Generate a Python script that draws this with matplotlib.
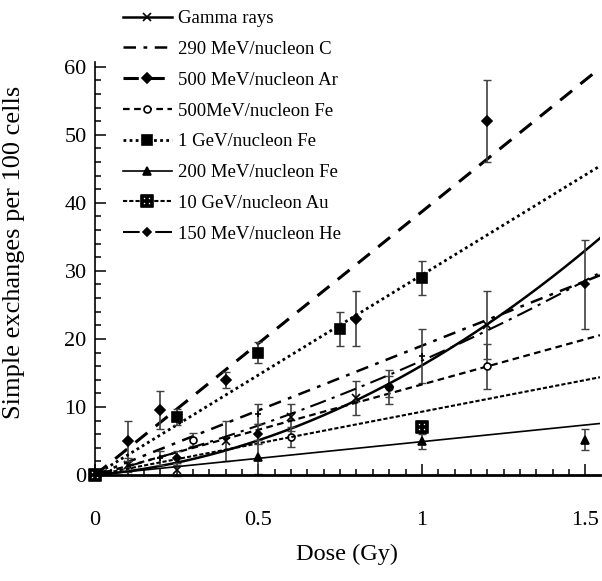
import matplotlib.pyplot as plt
from matplotlib.lines import Line2D
from matplotlib.ticker import MultipleLocator, FuncFormatter
import numpy as np

plt.rcParams['font.family'] = ['Liberation Serif', 'DejaVu Serif']

# series labels
labels = ["Gamma rays", "290 MeV/nucleon C", "500 MeV/nucleon Ar", "500MeV/nucleon Fe",
          "1 GeV/nucleon Fe", "200 MeV/nucleon Fe", "10 GeV/nucleon Au", "150 MeV/nucleon He"]

# measured points: dose (Gy), exchanges per 100 cells, error
gamma_x = [0.1, 0.25, 0.4, 0.6, 0.8, 1.2]
gamma_y = [1.5, 0.8, 5.0, 8.5, 11.3, 22.0]
gamma_e = [1.0, 1.0, 3.0, 2.0, 2.5, 5.0]

c_x = [0.2, 0.5, 1.0]
c_y = [2.5, 9.0, 17.5]
c_e = [1.0, 1.5, 4.0]

ar_x = [0.1, 0.2, 0.4, 0.8, 1.2]
ar_y = [5.0, 9.5, 14.0, 23.0, 52.0]
ar_e = [3.0, 2.8, 1.2, 4.0, 6.0]

fe500_x = [0.3, 0.6, 0.9, 1.2]
fe500_y = [5.2, 5.6, 13.0, 16.0]
fe500_e = [1.0, 1.5, 1.5, 3.3]

fe1g_x = [0.25, 0.5, 0.75, 1.0]
fe1g_y = [8.5, 18.0, 21.5, 29.0]
fe1g_e = [1.2, 1.5, 2.5, 2.5]

fe200_x = [0.5, 1.0, 1.5]
fe200_y = [2.6, 5.0, 5.2]
fe200_e = [2.5, 1.2, 1.5]

au_x = [0.0, 1.0]
au_y = [0.0, 7.0]
au_e = [0.0, 1.0]

he_x = [0.25, 0.5, 0.9, 1.5]
he_y = [2.5, 6.0, 13.0, 28.0]
he_e = [1.0, 1.5, 2.5, 6.5]

# fitted dose responses: linear slope, quadratic coefficient
fit_a = [4.3, 19.0, 38.7, 13.3, 29.4, 4.9, 9.3, 12.3]
fit_b = [11.8, 0.0, 0.0, 0.0, 0.0, 0.0, 0.0, 4.5]

xs = [gamma_x, c_x, ar_x, fe500_x, fe1g_x, fe200_x, au_x, he_x]
ys = [gamma_y, c_y, ar_y, fe500_y, fe1g_y, fe200_y, au_y, he_y]
es = [gamma_e, c_e, ar_e, fe500_e, fe1g_e, fe200_e, au_e, he_e]

styles = [
    dict(ls='-', lw=1.8, marker='x', ms=6, mfc='k'),
    dict(ls=(0, (5, 3, 1.5, 3)), lw=1.8, marker='+', ms=4, mfc='k'),
    dict(ls=(0, (5, 3.5)), lw=2.2, marker='D', ms=5, mfc='k'),
    dict(ls=(0, (3, 2)), lw=1.6, marker='o', ms=5, mfc='white'),
    dict(ls=(0, (1, 1.2)), lw=2.0, marker='s', ms=7, mfc='k'),
    dict(ls='-', lw=1.2, marker='^', ms=6, mfc='k'),
    dict(ls=(0, (2, 1)), lw=1.5, marker='$\\boxplus$', ms=8, mfc='k'),
    dict(ls=(0, (8, 3, 1.5, 3)), lw=1.5, marker='D', ms=4, mfc='k'),
]

fig = plt.figure(figsize=(6.02, 5.81), dpi=100)
ax = fig.add_axes([95 / 602, 106 / 581, 505 / 602, 413 / 581])

xmax = 1.545
xx = np.linspace(0, xmax, 200)
for i in range(len(labels)):
    st = styles[i]
    yy = fit_a[i] * xx + fit_b[i] * xx ** 2
    ax.plot(xx, yy, color='k', ls=st['ls'], lw=st['lw'])
    ax.errorbar(xs[i], ys[i], yerr=es[i], fmt='none', ecolor='0.25', elinewidth=1.2,
                capsize=3, capthick=1.0, clip_on=False)
    ax.plot(xs[i], ys[i], ls='none', marker=st['marker'], ms=st['ms'], mfc=st['mfc'],
            mec='k', mew=1.2, color='k', clip_on=False)

ax.set_xlim(0, xmax)
ax.set_ylim(0, 60.7)
ax.spines['top'].set_visible(False)
ax.spines['right'].set_visible(False)
ax.spines['left'].set_linewidth(1.2)
ax.spines['bottom'].set_linewidth(2.0)
ax.xaxis.set_major_locator(MultipleLocator(0.5))
ax.xaxis.set_minor_locator(MultipleLocator(0.05))
ax.yaxis.set_major_locator(MultipleLocator(10))
ax.yaxis.set_minor_locator(MultipleLocator(2))
ax.xaxis.set_major_formatter(FuncFormatter(lambda v, p: ('%g' % v)))
ax.tick_params(which='both', direction='in', top=False, right=False, labelsize=16, width=1.1)
ax.tick_params(which='major', length=8)
ax.tick_params(which='minor', length=4)
ax.tick_params(axis='x', pad=26)
ax.tick_params(axis='y', pad=6)

ax.set_xlabel("Dose (Gy)", fontsize=17.5, labelpad=10)
ax.set_ylabel("Simple exchanges per 100 cells", fontsize=19)
ax.yaxis.set_label_coords(-0.139, 0.54)

handles = []
for i in range(len(labels)):
    st = styles[i]
    mk = None if i == 1 else st['marker']
    handles.append(Line2D([], [], color='k', ls=st['ls'], lw=st['lw'], marker=mk,
                          ms=st['ms'], mfc=st['mfc'], mec='k', mew=1.2))
fig.legend(handles, labels, loc='upper left', bbox_to_anchor=(123 / 602, 1 - 10 / 581),
           frameon=False, fontsize=13.5, handlelength=2.6, handletextpad=0.35,
           labelspacing=0.73, borderpad=0, borderaxespad=0)

fig.savefig("out.png", dpi=100)
